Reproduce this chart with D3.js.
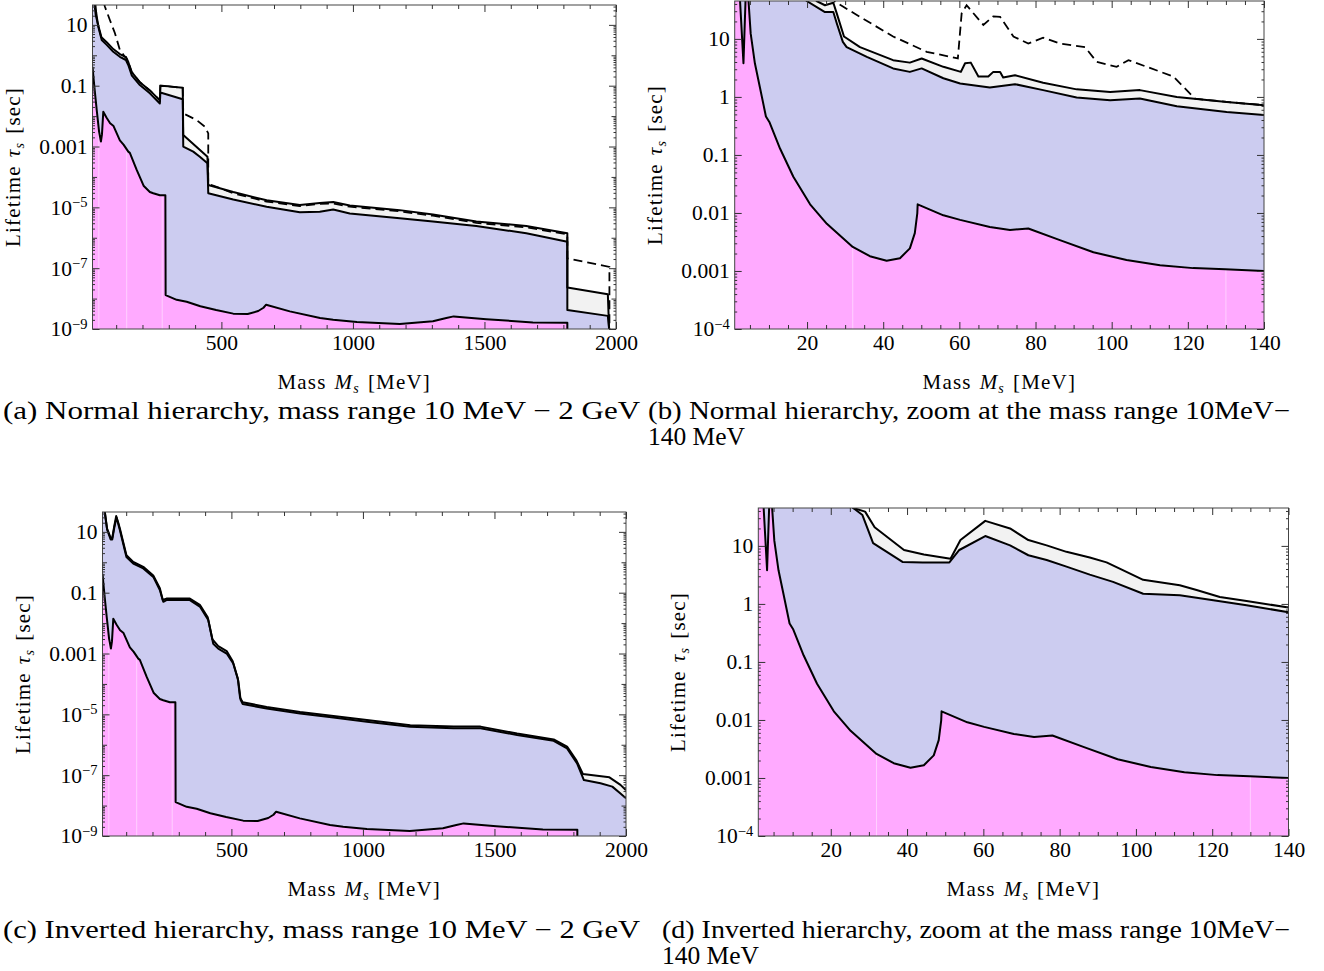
<!DOCTYPE html>
<html lang="en">
<head>
<meta charset="UTF-8">
<title>Sterile scalar lifetime bounds</title>
<script src="https://cdnjs.cloudflare.com/ajax/libs/d3/7.8.5/d3.min.js"></script>
<style>
  body { margin: 0; background: #fff; }
  svg text { font-family: "Liberation Serif", "Times New Roman", serif; fill: #000; }
</style>
</head>
<body>
<svg id="fig" width="1324" height="971"></svg>
<script>
// ---- data: [mass MeV, lifetime sec] ----
// lower curve (pink / lavender boundary), same in both hierarchies
var pinkFull = [[10, 0.42], [17, 0.093], [26, 0.016], [35, 3.1e-3], [42, 1.45e-3], [46, 2.5e-3], [51, 0.0138],
  [63, 9e-3], [77, 5.8e-3], [90, 4.7e-3], [114, 1.6e-3], [128, 1.15e-3], [146, 6.8e-4], [152, 6.2e-4],
  [178, 1.7e-4], [205, 5e-5], [228, 3.2e-5], [241, 2.9e-5], [266, 2.5e-5], [287, 2.5e-5], [288, 1.3e-8],
  [330, 9.1e-9], [368, 7.9e-9], [420, 5.6e-9], [480, 4.2e-9], [545, 3.2e-9], [600, 3.1e-9], [640, 3.9e-9],
  [660, 5.0e-9], [670, 6.3e-9], [760, 3.8e-9], [875, 2.3e-9], [925, 2.0e-9], [1015, 1.7e-9], [1178, 1.45e-9],
  [1304, 1.8e-9], [1355, 2.3e-9], [1383, 2.6e-9], [1507, 2.1e-9], [1684, 1.65e-9], [1815, 1.6e-9], [1815, 1e-10]]
var pinkZoom = [[1, 60], [2.3, 60], [3.3, 3.8], [3.9, 60], [4.5, 60], [5.2, 12.3], [6.3, 3.8], [7.6, 1.48],
  [9.2, 0.46], [10.1, 0.37], [12.9, 0.129], [16.4, 0.042], [20.8, 0.0141], [25.2, 6.5e-3], [32, 2.6e-3],
  [36.5, 1.8e-3], [40.9, 1.5e-3], [44.4, 1.66e-3], [47, 2.45e-3], [48.3, 4.5e-3], [48.95, 9.8e-3],
  [49.05, 0.0141], [55.8, 9.1e-3], [60.2, 7.6e-3], [68, 5.75e-3], [73.3, 5.1e-3], [78.1, 5.4e-3],
  [86.4, 3.4e-3], [95.2, 2.1e-3], [103.9, 1.55e-3], [112.7, 1.26e-3], [121.4, 1.12e-3], [129.8, 1.07e-3], [140, 1.0e-3]]

// normal hierarchy: lavender top, grey band top, dashed bound
var lavFullNH = [[10, 60], [19, 60], [21, 45], [24, 25], [32, 8.7], [45, 3.2], [64, 2.2], [89, 1.3], [114, 0.89],
  [137, 0.7], [146, 0.48], [159, 0.22], [190, 0.105], [228, 0.056], [266, 0.026], [268, 0.06], [353, 0.036],
  [355, 1.0e-3], [393, 6.8e-4], [418, 4.6e-4], [447, 2.8e-4], [450, 2.9e-5], [545, 1.8e-5], [672, 1.05e-5],
  [798, 6.9e-6], [874, 7.2e-6], [925, 8.5e-6], [988, 6.3e-6], [1178, 4.4e-6], [1304, 3.4e-6], [1469, 2.45e-6],
  [1659, 1.4e-6], [1815, 7.4e-7], [1815, 4.2e-9], [1969, 2.7e-9], [1985, 1e-10]]
var grayFullNH = [[10, 60], [16, 60], [18, 45], [22, 22], [30, 11], [44, 3.9], [64, 2.7], [89, 1.6], [114, 1.1],
  [137, 0.87], [146, 0.6], [159, 0.28], [190, 0.13], [228, 0.07], [266, 0.033], [268, 0.1], [300, 0.095],
  [353, 0.085], [355, 2.4e-3], [447, 4.6e-4], [450, 5.4e-5], [545, 3.2e-5], [672, 1.7e-5], [798, 1.2e-5],
  [874, 1.4e-5], [925, 1.5e-5], [988, 1.15e-5], [1178, 8.1e-6], [1304, 5.8e-6], [1469, 3.4e-6], [1659, 2.45e-6],
  [1815, 1.4e-6], [1815, 2.3e-8], [1969, 1.4e-8], [1978, 1e-10]]
var dashFullNH = [[52, 60], [57, 40], [76, 14.5], [95, 5.4], [114, 1.5], [133, 0.89], [137, 0.87], [146, 0.6],
  [159, 0.28], [190, 0.13], [228, 0.07], [266, 0.033], [268, 0.1], [300, 0.095], [353, 0.085], [355, 0.0123],
  [406, 7.4e-3], [437, 4.5e-3], [450, 2.7e-3], [450, 6e-5], [545, 2.9e-5], [672, 1.55e-5], [798, 1.1e-5],
  [874, 1.3e-5], [925, 1.35e-5], [988, 1.05e-5], [1178, 7.4e-6], [1304, 5.3e-6], [1469, 3.1e-6], [1659, 2.2e-6],
  [1815, 1.3e-6], [1815, 2.1e-7], [1975, 1.1e-7], [1975, 1e-10]]

var lavZoomNH = [[1, 60], [19.5, 60], [19.9, 45], [24.7, 29], [26.9, 29], [27.8, 18.6], [29.4, 8.9], [30.4, 7.2],
  [35.7, 4.9], [42.6, 3.1], [47, 2.7], [50.1, 3.1], [55.8, 2.1], [60.2, 1.7], [68, 1.45], [74.6, 1.66], [82, 1.31],
  [90.8, 0.98], [99.6, 0.88], [107.4, 0.94], [117.1, 0.69], [130.2, 0.55], [140, 0.49]]
var grayZoomNH = [[1, 60], [22, 60], [22.5, 45], [24.7, 38], [26.9, 42], [27.8, 27.5], [29.7, 11], [33.9, 7.2],
  [42.6, 4.3], [47, 3.9], [50.1, 4.6], [55.8, 3.3], [60.4, 2.7], [61.5, 3.8], [63, 3.9], [65, 2.25], [67.6, 2.25],
  [68.9, 2.7], [70.7, 2.7], [71.5, 2.17], [74.6, 2.37], [82, 1.75], [90.8, 1.35], [99.6, 1.22], [107.4, 1.31],
  [117.1, 1.0], [130.2, 0.82], [140, 0.72]]
var dashZoomNH = [[26.5, 60], [27.3, 44], [33.9, 24], [42.6, 11], [51.4, 6], [59.6, 4.6], [60.6, 27.5], [61.9, 38],
  [66.3, 17.4], [68.9, 24.5], [70.7, 24], [74.2, 11], [78.1, 8.3], [82, 10.5], [86.4, 8.3], [93, 7.2], [96.1, 4.0],
  [101.3, 3.3], [104.4, 4.3], [116.2, 2.25], [121.9, 0.93], [130.2, 0.82], [140, 0.72]]

// inverted hierarchy
var lavFullIH = [[10, 60], [17, 60], [19.5, 41], [28, 11.5], [41, 5.6], [47, 5.6], [55, 14], [63, 30], [70, 18],
  [76, 11.5], [101, 1.5], [127, 0.91], [165, 0.63], [203, 0.33], [228, 0.123], [241, 0.05], [253, 0.057],
  [342, 0.057], [380, 0.035], [412, 0.0126], [431, 2.1e-3], [450, 1.45e-3], [482, 1.0e-3], [507, 4.7e-4],
  [526, 1.3e-4], [535, 3.0e-5], [543, 2.2e-5], [634, 1.55e-5], [761, 1.07e-5], [888, 7.9e-6], [1015, 5.75e-6],
  [1180, 3.9e-6], [1345, 3.5e-6], [1447, 3.5e-6], [1586, 2.1e-6], [1725, 1.35e-6], [1776, 7.6e-7], [1814, 2.45e-7],
  [1840, 6.9e-8], [1903, 5.4e-8], [1948, 4.2e-8], [1979, 2.5e-8], [2000, 1.75e-8]]
var grayFullIH = [[10, 60], [16, 60], [18.5, 45], [27, 13], [41, 6.3], [47, 6.3], [55, 16], [62, 33], [70, 20],
  [76, 13], [101, 1.7], [127, 1.02], [165, 0.71], [203, 0.37], [228, 0.14], [239, 0.058], [253, 0.064],
  [342, 0.064], [380, 0.04], [410, 0.0155], [428, 2.9e-3], [450, 1.75e-3], [482, 1.2e-3], [505, 5.6e-4],
  [524, 1.55e-4], [533, 3.5e-5], [543, 2.5e-5], [634, 1.75e-5], [761, 1.2e-5], [888, 8.9e-6], [1015, 6.5e-6],
  [1180, 4.4e-6], [1345, 3.95e-6], [1447, 3.95e-6], [1586, 2.35e-6], [1725, 1.5e-6], [1776, 8.7e-7], [1812, 3.0e-7],
  [1836, 1.1e-7], [1937, 8.5e-8], [1979, 4.8e-8], [2000, 3.2e-8]]

var lavZoomIH = [[1, 60], [25, 60], [25.9, 45], [28.3, 34], [31.1, 11.2], [38.8, 5.3], [44.1, 5.2], [51.1, 5.2],
  [53.7, 8.5], [60.5, 14.8], [67, 10.2], [71.8, 6.9], [76.6, 5.7], [81.8, 4.4], [87.9, 3.2], [94, 2.4],
  [101.9, 1.5], [111.5, 1.41], [120.3, 1.16], [129, 0.95], [140, 0.72]]
var grayZoomIH = [[1, 60], [25, 60], [25.9, 45], [29, 39], [31.5, 21], [39.2, 8.5], [44.4, 7.1], [51.4, 6.0],
  [54, 12.6], [60.5, 27], [67, 20], [71.8, 12.6], [76.6, 10.2], [81.8, 7.9], [87.9, 6.3], [92.3, 5.2], [96.7, 3.8],
  [101.9, 2.6], [111.5, 2.1], [115.9, 1.74], [122, 1.32], [129, 1.12], [140, 0.87]]

// faint seams in the pink region
var seamsFull = [34, 140, 275]
var seamsZoom = [32, 130]

// ticks
var xMajorFull = [500, 1000, 1500, 2000]
var xMajorZoom = [20, 40, 60, 80, 100, 120, 140]
var yLabelFull = ['10', '0.1', '0.001', '10^−5', '10^−7', '10^−9']
var yLabelZoom = ['10', '1', '0.1', '0.01', '0.001', '10^−4']
var yMajorFull = [10, 0.1, 1e-3, 1e-5, 1e-7, 1e-9]
var yMajorZoom = [10, 1, 0.1, 0.01, 1e-3, 1e-4]

// caption lines with the width they fill
var captions = [
  [['(a) Normal hierarchy, mass range 10 MeV − 2 GeV', 637]],
  [['(b) Normal hierarchy, zoom at the mass range 10MeV−', 642], ['140 MeV', 97]],
  [['(c) Inverted hierarchy, mass range 10 MeV − 2 GeV', 637]],
  [['(d) Inverted hierarchy, zoom at the mass range 10MeV−', 628], ['140 MeV', 97]]
]

var PINK = '#ffaaff', LAV = '#ccccf0', GRAY = '#f2f2f2'

var panels = [
  { box: [92.5, 5, 616, 329], mass: [10, 2000], life: [1e-9, 45], pink: pinkFull, lav: lavFullNH, band: grayFullNH, dash: dashFullNH, seams: seamsFull, cap: [3, 419] },
  { box: [734.7, 1, 1264, 329], mass: [1, 140], life: [1e-4, 45], pink: pinkZoom, lav: lavZoomNH, band: grayZoomNH, dash: dashZoomNH, seams: seamsZoom, cap: [648, 419] },
  { box: [102.5, 512, 626, 836], mass: [10, 2000], life: [1e-9, 45], pink: pinkFull, lav: lavFullIH, band: grayFullIH, dash: null, seams: seamsFull, cap: [3, 938] },
  { box: [758.3, 508, 1288.5, 836], mass: [1, 140], life: [1e-4, 45], pink: pinkZoom, lav: lavZoomIH, band: grayZoomIH, dash: null, seams: seamsZoom, cap: [662, 938] }
]

var fig = d3.select('#fig')
var defs = fig.append('defs')

function styleAxis(sel) {
  sel.select('.domain').remove()
  sel.attr('font-family', null).attr('font-size', 21.5)
  sel.selectAll('line').attr('stroke', '#333')
}

panels.forEach(function (p, i) {
  var x0 = p.box[0], y0 = p.box[1], x1 = p.box[2], y1 = p.box[3]
  var full = p.mass[1] > 1000
  var x = d3.scaleLinear().domain(p.mass).range([x0, x1])
  var y = d3.scaleLog().domain(p.life).range([y1, y0])
  var area = d3.area().x(d => x(d[0])).y0(y1 + 10).y1(d => y(d[1]))
  var line = d3.line().x(d => x(d[0])).y(d => y(d[1]))

  defs.append('clipPath').attr('id', 'clip' + i).append('rect')
    .attr('x', x0).attr('y', y0).attr('width', x1 - x0).attr('height', y1 - y0)
  defs.append('clipPath').attr('id', 'pinkclip' + i).append('path').attr('d', area(p.pink))

  var g = fig.append('g')
  var plot = g.append('g').attr('clip-path', 'url(#clip' + i + ')')
  plot.append('rect').attr('x', x0).attr('y', y0).attr('width', x1 - x0).attr('height', y1 - y0).attr('fill', '#fff')
  plot.append('path').attr('d', area(p.band)).attr('fill', GRAY)
  plot.append('path').attr('d', area(p.lav)).attr('fill', LAV)
  plot.append('path').attr('d', area(p.pink)).attr('fill', PINK)

  plot.append('g').attr('clip-path', 'url(#pinkclip' + i + ')')
    .selectAll('line').data(p.seams).join('line')
    .attr('x1', d => x(d)).attr('x2', d => x(d)).attr('y1', y0).attr('y2', y1)
    .attr('stroke', 'rgba(255,255,255,0.45)').attr('stroke-width', 1)

  if (p.dash) plot.append('path').attr('d', line(p.dash)).attr('fill', 'none')
    .attr('stroke', '#000').attr('stroke-width', 1.8).attr('stroke-dasharray', '9,5')
  ;[p.band, p.lav, p.pink].forEach(function (c) {
    plot.append('path').attr('d', line(c)).attr('fill', 'none').attr('stroke', '#000')
      .attr('stroke-width', 2).attr('stroke-linejoin', 'round')
  })

  g.append('rect').attr('x', x0).attr('y', y0).attr('width', x1 - x0).attr('height', y1 - y0)
    .attr('fill', 'none').attr('stroke', '#444').attr('stroke-width', 1)

  // x ticks (inward, mirrored on top)
  var xMajor = full ? xMajorFull : xMajorZoom
  var xMinor = full ? d3.range(100, 2000, 100) : d3.range(5, 140, 5)
  xMinor = xMinor.filter(v => xMajor.indexOf(v) < 0)
  g.append('g').attr('transform', 'translate(0,' + y1 + ')')
    .call(d3.axisBottom(x).tickValues(xMinor).tickSize(-4).tickFormat('')).call(styleAxis)
  g.append('g').attr('transform', 'translate(0,' + y1 + ')')
    .call(d3.axisBottom(x).tickValues(xMajor).tickSize(-7).tickPadding(6).tickFormat(d3.format('d'))).call(styleAxis)
  g.append('g').attr('transform', 'translate(0,' + y0 + ')')
    .call(d3.axisTop(x).tickValues(xMinor).tickSize(-4).tickFormat('')).call(styleAxis)
  g.append('g').attr('transform', 'translate(0,' + y0 + ')')
    .call(d3.axisTop(x).tickValues(xMajor).tickSize(-7).tickFormat('')).call(styleAxis)

  // y ticks: decades and 2..9 minors
  var yMajor = full ? yMajorFull : yMajorZoom
  var yLabel = full ? yLabelFull : yLabelZoom
  var yMid = [], yMinor = []
  var lo = Math.round(Math.log10(p.life[0]))
  for (var e = lo; e <= 1; e++) {
    var dec = Math.pow(10, e)
    if (yMajor.indexOf(dec) < 0 && dec >= p.life[0]) yMid.push(dec)
    for (var k = 2; k <= 9; k++) if (k * dec <= p.life[1]) yMinor.push(k * dec)
  }
  ;[[x0, d3.axisLeft], [x1, d3.axisRight]].forEach(function (side, s) {
    g.append('g').attr('transform', 'translate(' + side[0] + ',0)')
      .call(side[1](y).tickValues(yMinor).tickSize(-2.5).tickFormat('')).call(styleAxis)
    g.append('g').attr('transform', 'translate(' + side[0] + ',0)')
      .call(side[1](y).tickValues(yMid).tickSize(-4.5).tickFormat('')).call(styleAxis)
    var ax = g.append('g').attr('transform', 'translate(' + side[0] + ',0)')
      .call(side[1](y).tickValues(yMajor).tickSize(-7).tickPadding(5)
        .tickFormat(s === 0 ? (d, j) => yLabel[j] : '')).call(styleAxis)
    if (s === 0) ax.selectAll('text').each(function () {
      var t = d3.select(this), parts = t.text().split('^')
      if (parts.length < 2) return
      t.text(parts[0])
      t.append('tspan').attr('font-size', 14.5).attr('dy', '-0.5em').text(parts[1])
    })
  })

  // axis titles
  var yl = fig.append('text').attr('text-anchor', 'middle').attr('font-size', 21).attr('letter-spacing', 1.2)
    .attr('transform', 'translate(' + (x0 - 73) + ',' + ((y0 + y1) / 2) + ') rotate(-90)')
  yl.append('tspan').text('Lifetime')
  yl.append('tspan').attr('dx', 8).attr('font-style', 'italic').text('τ')
  yl.append('tspan').attr('font-style', 'italic').attr('font-size', 14).attr('dy', 4).text('s')
  yl.append('tspan').attr('dx', 8).attr('dy', -4).text('[sec]')

  var xl = fig.append('text').attr('text-anchor', 'middle').attr('font-size', 21).attr('letter-spacing', 1.2)
    .attr('x', (x0 + x1) / 2).attr('y', y1 + 60)
  xl.append('tspan').text('Mass')
  xl.append('tspan').attr('dx', 8).attr('font-style', 'italic').text('M')
  xl.append('tspan').attr('font-style', 'italic').attr('font-size', 14).attr('dy', 4).text('s')
  xl.append('tspan').attr('dx', 8).attr('dy', -4).text('[MeV]')

  // caption
  captions[i].forEach(function (c, j) {
    fig.append('text').attr('x', p.cap[0]).attr('y', p.cap[1] + j * 26).attr('font-size', 25)
      .attr('textLength', c[1]).attr('lengthAdjust', 'spacingAndGlyphs').text(c[0])
  })
})
</script>
</body>
</html>
